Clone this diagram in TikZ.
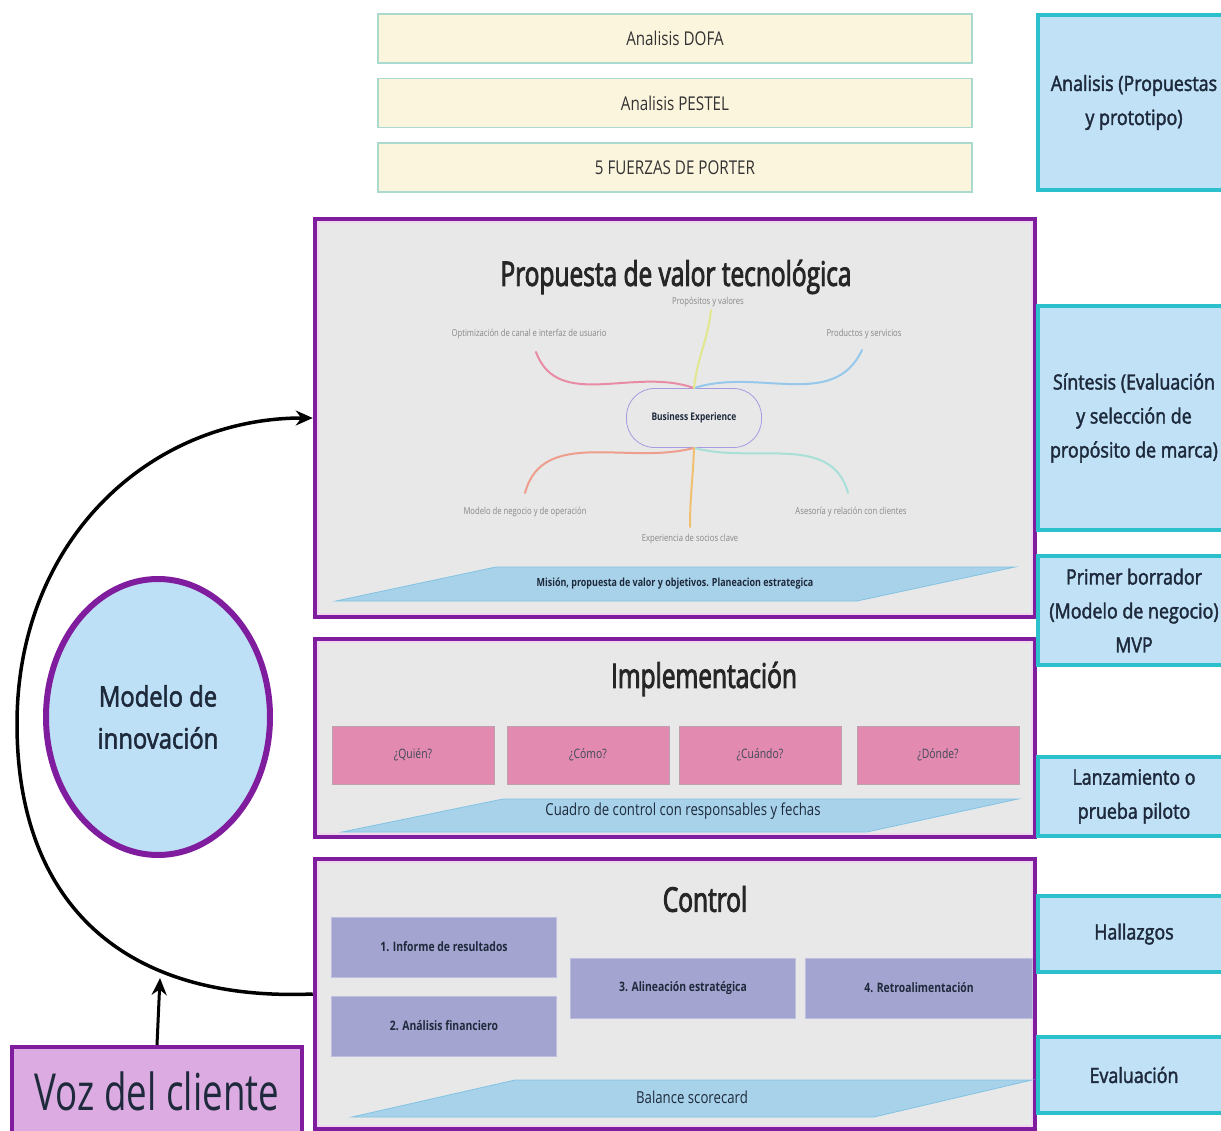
\documentclass[tikz,border=0pt]{standalone}
\usepackage{fontspec}
\setmainfont{Open Sans}[FakeStretch=0.8]
\newfontfamily\titlefont{Open Sans}[FakeStretch=0.72,FakeBold=2.5]
\newfontfamily\sidefont{Open Sans}[FakeStretch=0.85,FakeBold=2]
\newfontfamily\vozfont{Open Sans}[FakeStretch=0.72]
\usetikzlibrary{arrows.meta,positioning,shapes.geometric,calc}

\definecolor{purp}{RGB}{128,28,158}
\definecolor{lining}{RGB}{240,214,240}
\definecolor{panel}{RGB}{232,232,232}
\definecolor{yelfill}{RGB}{252,245,222}
\definecolor{yeldraw}{RGB}{170,218,205}
\definecolor{cyfill}{RGB}{193,225,246}
\definecolor{cydraw}{RGB}{44,192,204}
\definecolor{pinkbox}{RGB}{226,138,176}
\definecolor{pinkdraw}{RGB}{190,160,175}
\definecolor{lavbox}{RGB}{164,164,208}
\definecolor{lavdraw}{RGB}{190,190,225}
\definecolor{parafill}{RGB}{168,210,234}
\definecolor{paradraw}{RGB}{130,195,228}
\definecolor{vozfill}{RGB}{219,171,226}
\definecolor{ellfill}{RGB}{190,224,246}
\definecolor{navy}{RGB}{30,42,60}
\definecolor{graytext}{RGB}{135,135,135}
\definecolor{brpink}{RGB}{232,140,165}
\definecolor{brblue}{RGB}{150,200,236}
\definecolor{bryellow}{RGB}{226,230,140}
\definecolor{brsalmon}{RGB}{238,158,140}
\definecolor{brteal}{RGB}{168,224,216}
\definecolor{brorange}{RGB}{240,192,112}

\begin{document}
\begin{tikzpicture}[x=1pt,y=-1pt,>={Stealth[length=17pt,width=15pt]}]
\tikzstyle{stage} = [rectangle, draw=purp, line width=6.5pt, fill=panel]
\tikzstyle{heading} = [text=black!85, font=\titlefont\fontsize{34}{36}\selectfont]
\tikzstyle{tool} = [rectangle, draw=yeldraw, fill=yelfill, line width=1.2pt,
    minimum width=594, minimum height=49, font=\fontsize{19}{22}\selectfont, text=black!80]
\tikzstyle{phase} = [rectangle, draw=cydraw, fill=cyfill, line width=4.5pt,
    minimum width=192, align=center, text=navy, font=\sidefont\fontsize{21}{34}\selectfont]
\tikzstyle{question} = [rectangle, draw=pinkdraw, fill=pinkbox, line width=0.8pt,
    minimum width=162, minimum height=58, text=navy!85, font=\fontsize{13}{15}\selectfont]
\tikzstyle{check} = [rectangle, draw=lavdraw, fill=lavbox, line width=1pt,
    minimum width=225, minimum height=60, text=navy, font=\bfseries\fontsize{13}{15}\selectfont]
\tikzstyle{branch} = [line width=2pt, line cap=round]
\tikzstyle{leaf} = [text=graytext, font=\fontsize{9.6}{11}\selectfont]
\tikzstyle{para} = [fill=parafill, draw=paradraw, line width=0.8pt]

\useasboundingbox (0,0) rectangle (1221,1131);
\fill[white] (0,0) rectangle (1221,1131);

% analysis tools
\node[tool] (dofa) at (675,38.5) {Analisis DOFA};
\node[tool] (pestel) at (675,103) {Analisis PESTEL};
\node[tool] (porter) at (675,167.5) {5 FUERZAS DE PORTER};

% stages
\node[stage, minimum width=718, minimum height=396] (prop) at (675,418) {};
\node[stage, minimum width=718, minimum height=196] (impl) at (675,738) {};
\node[stage, minimum width=718, minimum height=268] (ctrl) at (675,994) {};
\foreach \s in {prop,impl,ctrl}
  \draw[lining, line width=2pt] ($(\s.north west)+(5.5,5.5)$) rectangle ($(\s.south east)+(-5.5,-5.5)$);

\node[heading] (proptitle) at (676,277) {Propuesta de valor tecnológica};
\node[heading] (impltitle) at (704,679) {Implementación};
\node[heading] (ctrltitle) at (705,899) {Control};

% mind map
\node[rectangle, rounded corners=28pt, draw={rgb,255:red,168;green,155;blue,224}, line width=0.8pt,
    fill=panel, minimum width=135, minimum height=59, text=navy,
    font=\bfseries\fontsize{10.5}{12}\selectfont] (bx) at (694,418) {Business Experience};

\node[leaf] (l-prop) at (708,302) {Propósitos y valores};
\node[leaf] (l-opt) at (529,334) {Optimización de canal e interfaz de usuario};
\node[leaf] (l-prod) at (864,334) {Productos y servicios};
\node[leaf] (l-mod) at (525,512) {Modelo de negocio y de operación};
\node[leaf] (l-exp) at (690,539) {Experiencia de socios clave};
\node[leaf] (l-ase) at (851,512) {Asesoría y relación con clientes};

\coordinate (c-prop) at (711,310);
\coordinate (c-opt) at (536,352);
\coordinate (c-prod) at (862,350);
\coordinate (c-mod) at (525,493);
\coordinate (c-exp) at (690,527);
\coordinate (c-ase) at (848,493);

\draw[branch, brpink] (bx.north) to[out=160,in=-70] (c-opt);
\draw[branch, brblue] (bx.north) to[out=18,in=-115] (c-prod);
\draw[branch, bryellow] (bx.north) to[out=84,in=-96] (c-prop);
\draw[branch, brsalmon] (bx.south) to[out=195,in=75] (c-mod);
\draw[branch, brteal] (bx.south) to[out=-15,in=105] (c-ase);
\draw[branch, brorange] (bx.south) to[out=-92,in=90] (c-exp);

\draw[para] (336,601) -- (496,567) -- (1015,567) -- (857,601) -- cycle;
\node[text=navy, font=\bfseries\fontsize{11.2}{13}\selectfont] (mision) at (675,584)
    {Misión, propuesta de valor y objetivos. Planeacion estrategica};

% implementation
\node[question] (quien) at (413,755) {¿Quién?};
\node[question] (como) at (588,755) {¿Cómo?};
\node[question] (cuando) at (760,755) {¿Cuándo?};
\node[question] (donde) at (938,755) {¿Dónde?};

\draw[para] (342,832) -- (503,799) -- (1018,799) -- (867,832) -- cycle;
\node[text=navy, font=\fontsize{16.5}{18}\selectfont] (cuadro) at (683,811)
    {Cuadro de control con responsables y fechas};

% control
\node[check] (informe) at (444,947) {1. Informe de resultados};
\node[check] (financ) at (444,1026) {2. Análisis financiero};
\node[check] (alinea) at (683,988) {3. Alineación estratégica};
\node[check, minimum width=227] (retro) at (919,988) {4. Retroalimentación};

\draw[para] (352,1117) -- (515,1080) -- (1032,1080) -- (874,1117) -- cycle;
\node[text=navy, font=\fontsize{16.5}{18}\selectfont] (balance) at (692,1097) {Balance scorecard};

% phases
\node[phase, minimum height=175] (analisis) at (1134,102.5) {Analisis (Propuestas\\y prototipo)};
\node[phase, minimum height=224] (sintesis) at (1134,418) {Síntesis (Evaluación\\y selección de\\propósito de marca)};
\node[phase, minimum height=109, inner sep=0pt] (borrador) at (1134,610.5) {Primer borrador\\(Modelo de negocio)\\MVP};
\node[phase, minimum height=79] (lanza) at (1134,796.5) {Lanzamiento o\\prueba piloto};
\node[phase, minimum height=76] (hallaz) at (1134,934) {Hallazgos};
\node[phase, minimum height=76] (evalua) at (1134,1075) {Evaluación};

% innovation loop
\node[ellipse, draw=purp, line width=6pt, fill=ellfill, minimum width=224, minimum height=276,
    align=center, text=navy, font=\sidefont\fontsize{28}{42}\selectfont] (modelo) at (158,717)
    {Modelo de\\innovación};
\node[rectangle, draw=purp, line width=4pt, fill=vozfill, minimum width=290, minimum height=88,
    text=navy, font=\vozfont\fontsize{51}{53}\selectfont] (voz) at (157,1091) {Voz del cliente};

\coordinate (loopfoot) at (160,978);
\coordinate (loopside) at (17,724);
\draw[line width=3.5pt, ->] (ctrl.west) .. controls (120,1002) and (17,900) .. (loopside)
    .. controls (17,540) and (150,418) .. (prop.west);
\draw[line width=3pt, ->] (voz.north) -- (loopfoot);
\end{tikzpicture}
\end{document}
